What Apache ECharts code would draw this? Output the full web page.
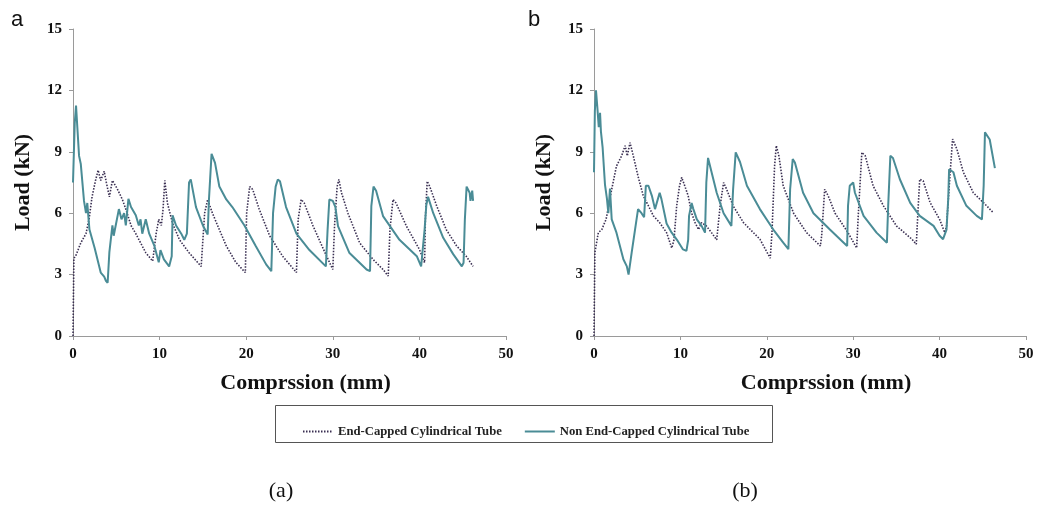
<!DOCTYPE html>
<html>
<head>
<meta charset="utf-8">
<script src="https://cdn.jsdelivr.net/npm/echarts@6/dist/echarts.min.js"></script>
<style>
html,body{margin:0;padding:0;background:#fff;}
#c{width:1042px;height:510px;}
</style>
</head>
<body>
<div id="c"></div>
<script>
// ---- Data (Compression mm, Load kN) ----
var xTicks = [0, 10, 20, 30, 40, 50];
var yTicks = [0, 3, 6, 9, 12, 15];
var seriesNames = ['End-Capped Cylindrical Tube', 'Non End-Capped Cylindrical Tube'];

// Panel (a)
var endCappedA = [[0,0],[0.1,3.8],[0.3,3.9],[0.9,4.55],[1.5,5.0],[1.85,5.7],[2.2,6.8],[2.6,7.6],[2.9,8.1],[3.2,7.6],[3.6,8.05],[3.85,7.5],[4.2,6.8],[4.55,7.6],[5.1,7.2],[5.7,6.67],[6.1,6.2],[6.7,5.4],[7.25,5.0],[8.4,4.07],[9.2,3.66],[9.6,5.0],[9.9,5.7],[10.2,5.4],[10.4,6.2],[10.6,7.6],[10.9,6.5],[11.5,5.5],[12.3,4.7],[13.4,4.07],[14.8,3.4],[15.2,6.0],[15.55,6.67],[16.1,6.0],[17.7,4.4],[18.8,3.6],[19.9,3.1],[20.05,6.0],[20.4,7.3],[20.75,7.16],[21.5,6.2],[22.7,4.9],[24.2,3.9],[25.8,3.1],[26.0,5.7],[26.35,6.67],[26.7,6.5],[27.7,5.4],[29.1,4.07],[30.0,3.25],[30.2,5.37],[30.5,7.3],[30.7,7.65],[31.0,7.0],[31.75,6.0],[33.1,4.55],[34.65,3.74],[35.8,3.25],[36.4,2.93],[36.6,5.2],[36.95,6.67],[37.3,6.5],[38.5,5.37],[40.0,4.23],[40.6,3.58],[40.7,5.86],[40.9,7.56],[41.2,7.3],[42.0,6.35],[43.1,5.2],[44.3,4.4],[45.4,3.9],[46.2,3.4]];
var nonEndCappedA = [[0,7.5],[0.2,10.4],[0.35,11.26],[0.5,10.2],[0.7,8.8],[0.9,8.4],[1.27,6.6],[1.5,6.0],[1.65,6.5],[1.8,5.7],[1.9,5.2],[2.5,4.3],[3.2,3.1],[3.6,2.9],[3.8,2.7],[4.0,2.6],[4.2,4.1],[4.55,5.4],[4.7,4.9],[5.3,6.2],[5.6,5.7],[5.9,6.0],[6.1,5.4],[6.4,6.7],[6.7,6.3],[7.25,5.9],[7.6,5.4],[7.8,5.7],[8.0,5.0],[8.4,5.7],[8.8,5.0],[9.4,4.4],[9.9,3.6],[10.1,4.2],[10.5,3.74],[11.1,3.4],[11.4,3.9],[11.5,5.9],[11.9,5.4],[12.5,5.0],[12.85,4.7],[13.15,5.0],[13.4,7.5],[13.6,7.65],[14.2,6.3],[15.0,5.4],[15.55,4.96],[15.7,6.67],[16.0,8.9],[16.4,8.46],[16.9,7.3],[17.7,6.67],[18.4,6.3],[19.8,5.4],[21.1,4.4],[22.3,3.5],[22.9,3.17],[23.1,6.0],[23.4,7.3],[23.65,7.65],[23.9,7.56],[24.6,6.3],[25.8,5.0],[27.3,4.2],[29.2,3.4],[29.4,5.2],[29.6,6.67],[30.0,6.6],[30.3,6.3],[30.6,5.37],[31.9,4.07],[33.9,3.25],[34.3,3.17],[34.45,6.35],[34.7,7.3],[35.0,7.1],[35.8,5.86],[37.7,4.7],[39.7,3.9],[40.2,3.4],[40.4,3.33],[40.6,5.2],[40.8,6.4],[41.0,6.8],[41.6,6.0],[42.75,4.8],[43.9,4.0],[44.9,3.4],[45.1,3.58],[45.25,5.7],[45.45,7.3],[45.8,7.0],[45.9,6.6],[46.1,7.1],[46.2,6.6]];

// Panel (b)
var endCappedB = [[0,0],[0.1,4.07],[0.5,5.05],[0.9,5.2],[1.4,5.7],[2.05,7.17],[2.6,8.3],[3.2,8.8],[3.6,9.3],[3.85,8.8],[4.17,9.45],[4.55,8.8],[5.1,7.8],[5.7,6.85],[6.3,6.36],[6.87,5.87],[7.6,5.54],[8.4,5.05],[9.0,4.3],[9.26,4.7],[9.57,6.36],[9.9,7.34],[10.15,7.75],[10.5,7.34],[10.9,6.85],[11.3,6.0],[11.7,5.54],[12.1,5.2],[12.45,5.54],[13.0,5.38],[13.6,5.05],[14.2,4.7],[14.6,6.36],[15.0,7.5],[15.35,7.17],[16.1,6.36],[17.3,5.54],[19.2,4.73],[20.4,3.8],[20.6,5.05],[20.9,8.3],[21.1,9.3],[21.4,8.8],[21.9,7.34],[23.1,6.0],[24.6,5.05],[26.2,4.4],[26.35,4.9],[26.7,7.17],[27.1,6.85],[27.9,6.0],[29.4,5.05],[30.4,4.3],[30.6,6.0],[31.0,8.97],[31.4,8.8],[32.3,7.34],[33.5,6.36],[35.0,5.38],[36.8,4.73],[37.3,4.48],[37.55,6.52],[37.7,7.66],[38.1,7.58],[38.9,6.52],[40.0,5.7],[40.6,5.05],[40.8,5.38],[41.2,7.83],[41.5,9.62],[42.0,9.13],[42.75,8.0],[43.9,7.0],[45.45,6.36],[46.2,6.03]];
var nonEndCappedB = [[0,8.0],[0.1,11.0],[0.23,12.0],[0.4,11.1],[0.55,10.2],[0.7,10.9],[0.8,10.0],[1.0,9.2],[1.27,7.4],[1.5,6.7],[1.66,6.0],[1.85,7.2],[2.05,5.7],[2.6,5.05],[3.0,4.4],[3.4,3.75],[3.8,3.4],[4.0,3.0],[4.2,2.93],[4.36,4.07],[4.75,5.2],[5.1,6.2],[5.5,6.0],[5.8,5.8],[6.0,7.34],[6.3,7.34],[6.7,6.85],[7.06,6.2],[7.6,7.0],[7.8,6.7],[8.4,5.5],[8.99,5.05],[9.6,4.7],[10.3,4.23],[10.7,4.16],[10.9,4.7],[11.0,5.87],[11.3,6.5],[11.5,6.2],[11.9,5.7],[12.45,5.38],[12.85,5.05],[13.0,7.5],[13.2,8.7],[13.4,8.64],[14.2,7.0],[15.0,6.0],[15.9,5.38],[16.1,7.17],[16.4,8.97],[16.9,8.5],[17.7,7.34],[19.2,6.2],[20.75,5.2],[21.9,4.56],[22.5,4.24],[22.7,7.17],[23.0,8.64],[23.25,8.48],[24.2,7.0],[25.4,6.0],[27.3,5.2],[28.9,4.56],[29.3,4.4],[29.4,6.36],[29.6,7.34],[30.0,7.5],[30.2,7.0],[31.2,5.87],[32.7,5.05],[33.9,4.56],[34.05,6.36],[34.3,8.8],[34.6,8.7],[35.4,7.66],[36.6,6.5],[37.7,5.87],[39.3,5.38],[40.0,4.9],[40.4,4.73],[40.8,5.2],[41.0,6.7],[41.1,8.15],[41.6,8.0],[42.0,7.34],[43.1,6.36],[44.3,5.87],[44.9,5.7],[45.1,7.34],[45.25,9.95],[45.45,10.0],[45.8,9.6],[46.4,8.2]];

var dotColor = '#3a2f52';
var solidColor = '#4a8c96';
var serif = '"Liberation Serif","Times New Roman",serif';

function xAxis(gi){
  return {
    type:'value', gridIndex:gi, min:0, max:50, interval:10,
    name:'Comprssion (mm)', nameLocation:'middle', nameGap:36,
    nameTextStyle:{fontFamily:serif, fontWeight:'bold', fontSize:22, color:'#111', padding:[0,0,0,32]},
    axisLine:{show:true, onZero:false, lineStyle:{color:'#9a9a9a', width:1}},
    axisTick:{show:true, length:4, lineStyle:{color:'#9a9a9a'}},
    splitLine:{show:false},
    axisLabel:{fontFamily:serif, fontWeight:'bold', fontSize:15, color:'#111', margin:11,
      formatter:function(v){return xTicks.indexOf(v)>=0 ? String(v) : '';}}
  };
}
function yAxis(gi){
  return {
    type:'value', gridIndex:gi, min:0, max:15, interval:3,
    name:'Load (kN)', nameLocation:'middle', nameGap:39,
    nameTextStyle:{fontFamily:serif, fontWeight:'bold', fontSize:22, color:'#111'},
    axisLine:{show:true, lineStyle:{color:'#9a9a9a', width:1}},
    axisTick:{show:true, length:4, lineStyle:{color:'#9a9a9a'}},
    splitLine:{show:false},
    axisLabel:{fontFamily:serif, fontWeight:'bold', fontSize:15, color:'#111', margin:11,
      formatter:function(v){return yTicks.indexOf(v)>=0 ? String(v) : '';}}
  };
}
function dotted(name, data, xi){
  return {name:name, type:'line', xAxisIndex:xi, yAxisIndex:xi, data:data, showSymbol:false, symbol:'circle',
    lineStyle:{type:[1.5,1.5], width:1.6, color:dotColor}, itemStyle:{color:dotColor}, z:2, animation:false};
}
function solid(name, data, xi){
  return {name:name, type:'line', xAxisIndex:xi, yAxisIndex:xi, data:data, showSymbol:false, symbol:'circle',
    lineStyle:{type:'solid', width:2, color:solidColor}, itemStyle:{color:solidColor}, z:3, animation:false};
}

var chart = echarts.init(document.getElementById('c'));
chart.setOption({
  backgroundColor:'#fff',
  animation:false,
  grid:[
    {left:73, top:29, width:433, height:307},
    {left:594, top:29, width:432, height:307}
  ],
  xAxis:[xAxis(0), xAxis(1)],
  yAxis:[yAxis(0), yAxis(1)],
  legend:{
    left:297, top:420, itemWidth:30, itemHeight:10, itemGap:22,
    data:seriesNames,
    itemStyle:{opacity:0},
    textStyle:{fontFamily:serif, fontWeight:'bold', fontSize:12.7, color:'#222'}
  },
  graphic:[
    {type:'rect', shape:{x:275.5, y:405.5, width:497, height:37}, style:{fill:'none', stroke:'#555', lineWidth:1}, silent:true},
    {type:'text', left:11, top:9, style:{text:'a', fontFamily:'"Liberation Sans",Arial,sans-serif', fontSize:22, fill:'#111'}},
    {type:'text', left:528, top:9, style:{text:'b', fontFamily:'"Liberation Sans",Arial,sans-serif', fontSize:22, fill:'#111'}},
    {type:'text', x:281, y:491, style:{text:'(a)', fontFamily:serif, fontSize:22, fill:'#111', align:'center', verticalAlign:'middle'}},
    {type:'text', x:745, y:491, style:{text:'(b)', fontFamily:serif, fontSize:22, fill:'#111', align:'center', verticalAlign:'middle'}}
  ],
  series:[
    dotted(seriesNames[0], endCappedA, 0),
    solid(seriesNames[1], nonEndCappedA, 0),
    dotted(seriesNames[0], endCappedB, 1),
    solid(seriesNames[1], nonEndCappedB, 1)
  ]
});
</script>
</body>
</html>
